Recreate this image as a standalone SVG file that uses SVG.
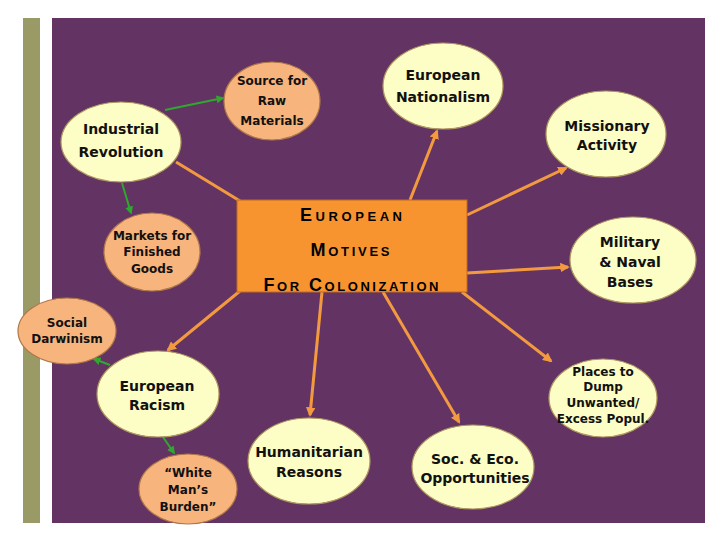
<svg xmlns="http://www.w3.org/2000/svg" width="728" height="546" viewBox="0 0 728 546">
<style>
.t{font-family:"Comic Sans MS","DejaVu Sans","Noto Sans",sans-serif;font-weight:bold;fill:#111;text-anchor:middle}
.big{font-size:14px}
.sm{font-size:12px}
.yel{fill:#fdfdc6;stroke:#b09860;stroke-width:1.2}
.pch{fill:#f8b47d;stroke:#b07848;stroke-width:1.2}
.oc{stroke:#f39a40;stroke-width:3;fill:none}
.gc{stroke:#2fa82f;stroke-width:2;fill:none}
.ct{font-family:"Liberation Sans",Arial,sans-serif;font-weight:bold;font-size:18px;font-variant:small-caps;fill:#000;text-anchor:middle}
</style>
<defs>
<marker id="ao" viewBox="0 0 10 10" refX="8" refY="5" markerWidth="3.2" markerHeight="3.2" orient="auto" markerUnits="strokeWidth">
<path d="M0,0 L10,5 L0,10 z" fill="#f39a40"/>
</marker>
<marker id="ag" viewBox="0 0 10 10" refX="8" refY="5" markerWidth="4" markerHeight="4" orient="auto" markerUnits="strokeWidth">
<path d="M0,0 L10,5 L0,10 z" fill="#2fa82f"/>
</marker>
</defs>
<rect width="728" height="546" fill="#ffffff"/>
<rect x="23" y="18" width="17" height="505" fill="#9a9a66"/>
<rect x="52" y="18" width="653" height="505" fill="#633463"/>

<g id="connectors">
<line class="oc" x1="176" y1="162" x2="240" y2="201"/>
<line class="oc" x1="410" y1="200" x2="437" y2="131" marker-end="url(#ao)"/>
<line class="oc" x1="467" y1="215" x2="566" y2="168" marker-end="url(#ao)"/>
<line class="oc" x1="467" y1="273" x2="568" y2="267" marker-end="url(#ao)"/>
<line class="oc" x1="462" y1="292" x2="551" y2="361" marker-end="url(#ao)"/>
<line class="oc" x1="383" y1="292" x2="459" y2="422" marker-end="url(#ao)"/>
<line class="oc" x1="322" y1="292" x2="310" y2="415" marker-end="url(#ao)"/>
<line class="oc" x1="240" y1="291" x2="168" y2="350" marker-end="url(#ao)"/>
<line class="gc" x1="165" y1="110" x2="223" y2="98" marker-end="url(#ag)"/>
<line class="gc" x1="122" y1="183" x2="131" y2="213" marker-end="url(#ag)"/>
<line class="gc" x1="110" y1="365" x2="94" y2="359" marker-end="url(#ag)"/>
<line class="gc" x1="163" y1="437" x2="174" y2="453" marker-end="url(#ag)"/>
</g>

<g id="center">
<rect x="237" y="200" width="230" height="92" fill="#f7942f" stroke="#c06a20" stroke-width="1"/>
<text class="ct" x="351" y="221" textLength="102" lengthAdjust="spacing">European</text>
<text class="ct" x="350" y="256" textLength="79" lengthAdjust="spacing">Motives</text>
<text class="ct" x="351" y="291" textLength="175" lengthAdjust="spacing">For Colonization</text>
</g>

<g id="industrial">
<ellipse class="yel" cx="121" cy="142" rx="60" ry="40"/>
<text class="t big" x="121" y="134">Industrial</text>
<text class="t big" x="121" y="157">Revolution</text>
</g>
<g id="raw">
<ellipse class="pch" cx="272" cy="101" rx="48" ry="39"/>
<text class="t sm" x="272" y="85">Source for</text>
<text class="t sm" x="272" y="105">Raw</text>
<text class="t sm" x="272" y="125">Materials</text>
</g>
<g id="markets">
<ellipse class="pch" cx="152" cy="252" rx="48" ry="39"/>
<text class="t sm" x="152" y="240">Markets for</text>
<text class="t sm" x="152" y="256">Finished</text>
<text class="t sm" x="152" y="273">Goods</text>
</g>
<g id="nationalism">
<ellipse class="yel" cx="443" cy="86" rx="60" ry="43"/>
<text class="t big" x="443" y="80">European</text>
<text class="t big" x="443" y="102">Nationalism</text>
</g>
<g id="missionary">
<ellipse class="yel" cx="606" cy="134" rx="60" ry="43"/>
<text class="t big" x="607" y="131">Missionary</text>
<text class="t big" x="607" y="150">Activity</text>
</g>
<g id="military">
<ellipse class="yel" cx="633" cy="260" rx="63" ry="43"/>
<text class="t big" x="630" y="247">Military</text>
<text class="t big" x="630" y="267">&amp; Naval</text>
<text class="t big" x="630" y="287">Bases</text>
</g>
<g id="dump">
<ellipse class="yel" cx="603" cy="398" rx="54" ry="39"/>
<text class="t sm" x="603" y="376">Places to</text>
<text class="t sm" x="603" y="391">Dump</text>
<text class="t sm" x="603" y="407">Unwanted/</text>
<text class="t sm" x="603" y="423">Excess Popul.</text>
</g>
<g id="soceco">
<ellipse class="yel" cx="473" cy="467" rx="61" ry="42"/>
<text class="t big" x="475" y="464">Soc. &amp; Eco.</text>
<text class="t big" x="475" y="483">Opportunities</text>
</g>
<g id="humanitarian">
<ellipse class="yel" cx="309" cy="461" rx="61" ry="43"/>
<text class="t big" x="309" y="457">Humanitarian</text>
<text class="t big" x="309" y="477">Reasons</text>
</g>
<g id="racism">
<ellipse class="yel" cx="158" cy="394" rx="61" ry="43"/>
<text class="t big" x="157" y="391">European</text>
<text class="t big" x="157" y="410">Racism</text>
</g>
<g id="darwinism">
<ellipse class="pch" cx="67" cy="331" rx="49" ry="33"/>
<text class="t sm" x="67" y="327">Social</text>
<text class="t sm" x="67" y="343">Darwinism</text>
</g>
<g id="burden">
<ellipse class="pch" cx="188" cy="489" rx="49" ry="35"/>
<text class="t sm" x="188" y="477">“White</text>
<text class="t sm" x="188" y="494">Man’s</text>
<text class="t sm" x="188" y="511">Burden”</text>
</g>
</svg>
